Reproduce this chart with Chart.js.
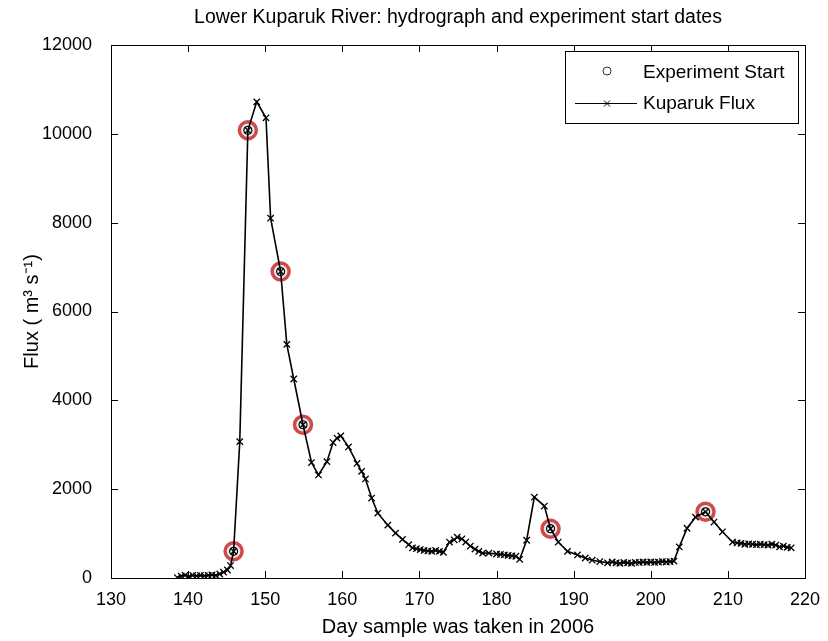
<!DOCTYPE html>
<html>
<head>
<meta charset="utf-8">
<script src="https://cdn.jsdelivr.net/npm/chart.js@4.4.1/dist/chart.umd.min.js"></script>
<style>
  html, body { margin: 0; padding: 0; background: #fff; }
  #wrap { width: 828px; height: 641px; }
</style>
</head>
<body>
<div id="wrap"><canvas id="hydro"></canvas></div>
<script>
// Kuparuk discharge samples (day of year 2006, m3/s)
const fluxDays = [
  138.6, 139.1, 139.6, 140.1, 140.6, 141.1, 141.6, 142.1, 142.6, 143.1, 143.6, 144.1, 144.6, 145.1, 145.5,
  145.9, 146.7, 147.75, 148.9, 150.1, 150.7, 152.0, 152.8, 153.7, 154.9,
  156.0, 156.9, 158.0, 158.8, 159.3, 159.8, 160.8, 161.9, 162.5, 163.0, 163.8, 164.6,
  165.9, 166.9, 167.8, 168.6, 169.1, 169.6, 170.1, 170.6, 171.1, 171.6, 172.1, 172.6, 173.1,
  173.9, 174.5, 174.9, 175.5, 176.0, 176.6, 177.2, 177.7, 178.2, 179.0, 180.0, 180.5, 181.0, 181.5, 182.0, 182.5, 183.0,
  183.9, 184.9, 186.2, 187.0, 188.0, 189.2, 190.5, 191.5, 192.4, 193.4, 194.4,
  195.0, 195.5, 196.0, 196.5, 197.0, 197.5, 198.0, 198.5, 199.0, 199.5, 200.0, 200.5, 201.0, 201.5, 202.0, 202.5, 203.0,
  203.7, 204.7, 205.8, 207.1, 208.2, 209.3, 210.6,
  211.2, 211.7, 212.2, 212.7, 213.2, 213.7, 214.2, 214.7, 215.2, 215.7, 216.2, 216.7, 217.2, 217.7, 218.2
];
const fluxValues = [
  10, 40, 60, 30, 60, 50, 60, 50, 60, 70, 60, 90, 130, 180, 280,
  600, 3070, 10080, 10720, 10360, 8100, 6900, 5260, 4480, 3450,
  2600, 2320, 2620, 3050, 3150, 3200, 2950, 2580, 2400, 2230, 1800, 1460,
  1190, 1010, 870, 750, 680, 660, 640, 620, 610, 600, 620, 600, 580,
  810, 860, 920, 880, 810, 720, 650, 600, 560, 560, 540, 530, 520, 510, 500, 490, 420,
  850, 1820, 1620, 1110, 810, 600, 520, 450, 400, 370, 340,
  360, 340, 330, 350, 340, 330, 350, 350, 360, 350, 360, 350, 360, 370, 360, 370, 380,
  700, 1120, 1370, 1490, 1260, 1040, 810,
  790, 780, 760, 770, 760, 750, 760, 750, 740, 760, 740, 700, 720, 690, 680
];

// experiment start dates and the flux on those days
const expDays = [145.9, 147.75, 152.0, 154.9, 187.0, 207.1];
const expValues = [600, 10080, 6900, 3450, 1110, 1490];

const xTicks = [130, 140, 150, 160, 170, 180, 190, 200, 210, 220];
const yTicks = [0, 2000, 4000, 6000, 8000, 10000, 12000];

const FONT = "'Liberation Sans', Arial, sans-serif";

const pts = (xs, ys) => xs.map((x, i) => ({ x, y: ys[i] }));

// box round the axes with ticks pointing inward, plus title and legend
const matlabFrame = {
  id: 'matlabFrame',
  afterDraw(chart) {
    const { ctx, chartArea: a, scales } = chart;
    ctx.save();
    ctx.strokeStyle = '#000';
    ctx.lineWidth = 1;
    ctx.strokeRect(a.left + 0.5, a.top + 0.5, a.right - a.left, a.bottom - a.top);
    const tl = 7;
    ctx.beginPath();
    xTicks.forEach(v => {
      const px = Math.round(scales.x.getPixelForValue(v)) + 0.5;
      ctx.moveTo(px, a.bottom); ctx.lineTo(px, a.bottom - tl);
      ctx.moveTo(px, a.top); ctx.lineTo(px, a.top + tl);
    });
    yTicks.forEach(v => {
      const py = Math.round(scales.y.getPixelForValue(v)) + 0.5;
      ctx.moveTo(a.left, py); ctx.lineTo(a.left + tl, py);
      ctx.moveTo(a.right, py); ctx.lineTo(a.right - tl, py);
    });
    ctx.stroke();

    // title
    ctx.fillStyle = '#000';
    ctx.font = '19.5px ' + FONT;
    ctx.textAlign = 'center';
    ctx.textBaseline = 'middle';
    ctx.fillText('Lower Kuparuk River: hydrograph and experiment start dates', (a.left + a.right) / 2, 18);

    // legend
    const lx = 565, ly = 51, lw = 233, lh = 72;
    ctx.fillStyle = '#fff';
    ctx.fillRect(lx, ly, lw, lh);
    ctx.strokeRect(lx + 0.5, ly + 0.5, lw, lh);
    ctx.strokeStyle = '#333';
    ctx.beginPath();
    ctx.arc(607, 71, 4, 0, Math.PI * 2);
    ctx.stroke();
    ctx.strokeStyle = '#000';
    ctx.beginPath();
    ctx.moveTo(575, 103.5); ctx.lineTo(637, 103.5);
    ctx.moveTo(604, 100.5); ctx.lineTo(610, 106.5);
    ctx.moveTo(610, 100.5); ctx.lineTo(604, 106.5);
    ctx.stroke();
    ctx.fillStyle = '#000';
    ctx.font = '19px ' + FONT;
    ctx.textAlign = 'left';
    ctx.fillText('Experiment Start', 643, 73);
    ctx.fillText('Kuparuk Flux', 643, 104);
    ctx.restore();
  }
};

new Chart(document.getElementById('hydro'), {
  type: 'scatter',
  data: {
    datasets: [
      {
        label: 'Experiment Start',
        data: pts(expDays, expValues),
        showLine: false,
        pointStyle: 'circle',
        pointRadius: 4,
        pointBorderWidth: 1.2,
        pointBorderColor: '#000',
        pointBackgroundColor: 'rgba(0,0,0,0)',
        order: 0
      },
      {
        label: 'Kuparuk Flux',
        data: pts(fluxDays, fluxValues),
        showLine: true,
        borderColor: '#000',
        borderWidth: 1.6,
        tension: 0,
        pointStyle: 'crossRot',
        pointRadius: 4.5,
        pointBorderWidth: 1.3,
        pointBorderColor: '#000',
        order: 1
      },
      {
        label: 'halo',
        data: pts(expDays, expValues),
        showLine: false,
        pointStyle: 'circle',
        pointRadius: 8.5,
        pointBorderWidth: 3.5,
        pointBorderColor: 'rgba(200,45,45,0.85)',
        pointBackgroundColor: 'rgba(232,232,238,0.95)',
        order: 2
      }
    ]
  },
  options: {
    responsive: true,
    maintainAspectRatio: false,
    animation: false,
    layout: { padding: { top: 45, right: 23, left: 0, bottom: 0 } },
    plugins: {
      legend: { display: false },
      tooltip: { enabled: false },
      title: { display: false }
    },
    scales: {
      x: {
        type: 'linear',
        min: 130,
        max: 220,
        afterFit: s => { s.height = 63; },
        afterBuildTicks: s => { s.ticks = xTicks.map(v => ({ value: v })); },
        grid: { display: false },
        border: { display: false },
        ticks: {
          color: '#000',
          font: { family: FONT, size: 18 },
          padding: 3,
          autoSkip: false,
          maxRotation: 0,
          callback: v => String(v)
        },
        title: {
          display: true,
          text: 'Day sample was taken in 2006',
          color: '#000',
          font: { family: FONT, size: 20 },
          padding: { top: 0, bottom: 2 }
        }
      },
      y: {
        min: 0,
        max: 12000,
        afterFit: s => { s.width = 111; },
        afterBuildTicks: s => { s.ticks = yTicks.map(v => ({ value: v })); },
        grid: { display: false },
        border: { display: false },
        ticks: {
          color: '#000',
          font: { family: FONT, size: 18 },
          padding: 11,
          callback: v => String(v)
        },
        title: {
          display: true,
          text: 'Flux ( m³ s⁻¹)',
          color: '#000',
          font: { family: FONT, size: 20 },
          padding: { top: 20, bottom: 0 }
        }
      }
    }
  },
  plugins: [matlabFrame]
});
</script>
</body>
</html>
